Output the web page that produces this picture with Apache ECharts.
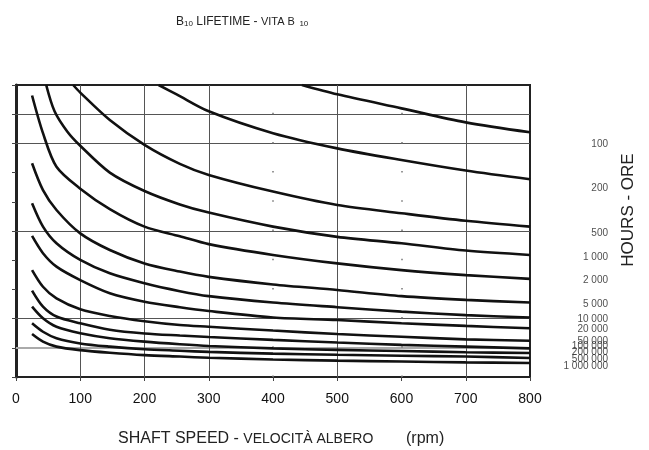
<!DOCTYPE html>
<html>
<head>
<meta charset="utf-8">
<script src="https://cdn.jsdelivr.net/npm/echarts@6/dist/echarts.min.js"></script>
<style>html,body{margin:0;padding:0;background:#fff;}#c{width:649px;height:450px;}</style>
</head>
<body>
<div id="c"></div>
<script>
// Shaft speed (rpm) tick values
const speedTicks = [0, 100, 200, 300, 400, 500, 600, 700, 800];
// Curve data: [shaft speed rpm, load (relative units, chart 0..10)]
const h100     = [[445,10],[500,9.68],[600,9.2],[700,8.72],[800,8.38]];
const h200     = [[222,10],[250,9.68],[300,9.1],[400,8.35],[500,7.83],[600,7.43],[700,7.07],[800,6.77]];
const h500     = [[89,10],[100,9.74],[146,8.8],[200,7.95],[255,7.3],[300,6.92],[400,6.35],[500,5.89],[600,5.61],[700,5.35],[800,5.15]];
const h1000    = [[47,10],[60,9.1],[80,8.4],[100,7.92],[146,7.0],[200,6.37],[255,5.91],[300,5.63],[400,5.15],[500,4.8],[600,4.58],[700,4.33],[800,4.18]];
const h2000    = [[25,9.64],[42,8.35],[63,7.2],[100,6.45],[146,5.75],[200,5.15],[255,4.82],[300,4.55],[400,4.18],[500,3.89],[600,3.66],[700,3.49],[800,3.36]];
const h5000    = [[25,7.32],[42,6.4],[63,5.72],[100,4.92],[146,4.35],[200,3.89],[255,3.61],[300,3.43],[400,3.17],[500,2.98],[600,2.77],[700,2.64],[800,2.55]];
const h10000   = [[25,5.95],[42,5.15],[63,4.58],[100,4.01],[146,3.55],[200,3.21],[255,2.94],[300,2.77],[400,2.55],[500,2.39],[600,2.24],[700,2.12],[800,2.04]];
const h20000   = [[25,4.83],[42,4.24],[63,3.78],[100,3.32],[146,2.87],[200,2.58],[255,2.39],[300,2.26],[400,2.04],[500,1.95],[600,1.84],[700,1.75],[800,1.67]];
const h50000   = [[25,3.66],[42,3.09],[63,2.69],[100,2.32],[146,2.09],[200,1.91],[255,1.78],[300,1.72],[400,1.59],[500,1.47],[600,1.38],[700,1.29],[800,1.24]];
const h100000  = [[25,2.96],[42,2.41],[63,2.07],[100,1.84],[146,1.62],[200,1.49],[255,1.42],[300,1.37],[400,1.27],[500,1.18],[600,1.1],[700,1.04],[800,0.98]];
const h200000  = [[25,2.41],[42,2.01],[63,1.72],[100,1.5],[146,1.33],[200,1.21],[255,1.12],[300,1.06],[400,0.98],[500,0.93],[600,0.89],[700,0.85],[800,0.82]];
const h500000  = [[25,1.84],[42,1.55],[63,1.33],[100,1.15],[146,1.04],[200,0.95],[255,0.9],[300,0.86],[400,0.8],[500,0.76],[600,0.73],[700,0.7],[800,0.65]];
const h1000000 = [[25,1.47],[42,1.21],[63,1.04],[100,0.92],[146,0.83],[200,0.75],[255,0.7],[300,0.66],[400,0.6],[500,0.56],[600,0.53],[700,0.5],[800,0.48]];
// Right-hand hour labels and the level each label sits at
const hourLabels = ['100','200','500','1 000','2 000','5 000','10 000','20 000','50 000','100 000','200 000','500 000','1 000 000'];
const hourLabelLevels = [7.98, 6.47, 4.93, 4.11, 3.32, 2.5, 1.99, 1.64, 1.23, 1.06, 0.86, 0.62, 0.38];
// Horizontal reference lines (load levels) and vertical reference lines (rpm)
const hGridSolid = [2, 5, 8, 9];
const hGridGrey = [1];
const vGridSolid = [100, 200, 300, 500, 700];
const vGridDotted = [400, 600];

const curves = [h100,h200,h500,h1000,h2000,h5000,h10000,h20000,h50000,h100000,h200000,h500000,h1000000];

const FONT = "'Liberation Sans', Arial, Helvetica, sans-serif";
const chart = echarts.init(document.getElementById('c'), null, {renderer: 'canvas'});

const series = curves.map((d, i) => ({
  type: 'line',
  name: hourLabels[i],
  data: d,
  smooth: 0.3,
  showSymbol: false,
  symbol: 'none',
  lineStyle: {color: '#111', width: 2.6},
  z: 5,
  silent: true
}));

const markData = [];
hGridSolid.forEach(v => markData.push({yAxis: v, lineStyle: {color: '#555', width: 1, type: 'solid'}}));
hGridGrey.forEach(v => markData.push({yAxis: v, lineStyle: {color: '#aaa', width: 2, type: 'solid'}}));
vGridSolid.forEach(v => markData.push({xAxis: v, lineStyle: {color: '#555', width: 1, type: 'solid'}}));
vGridDotted.forEach(v => markData.push({xAxis: v, lineStyle: {color: '#777', width: 1.5, type: [1.5, 27.7]}}));

series.push({
  type: 'line',
  data: [],
  silent: true,
  z: 2,
  markLine: {silent: true, symbol: 'none', label: {show: false}, animation: false, data: markData}
});

series.push({
  type: 'scatter',
  data: hourLabelLevels.map((v, i) => ({value: [800, v], name: hourLabels[i]})),
  symbolSize: 0,
  clip: false,
  silent: true,
  label: {
    show: true,
    formatter: p => p.name,
    position: [78, 0],
    align: 'right',
    verticalAlign: 'middle',
    fontFamily: FONT,
    fontSize: 10,
    color: '#222'
  }
});

chart.setOption({
  animation: false,
  backgroundColor: '#fff',
  title: {
    text: '{a|B}{s|10}{a| LIFETIME - }{b|VITA B}{s|  10}',
    left: 171,
    top: 11,
    textStyle: {
      fontWeight: 'normal',
      rich: {
        a: {fontFamily: FONT, fontSize: 12, fontWeight: 'normal', color: '#222'},
        b: {fontFamily: FONT, fontSize: 11, fontWeight: 'normal', color: '#222'},
        s: {fontFamily: FONT, fontSize: 8, fontWeight: 'normal', color: '#222', verticalAlign: 'bottom', padding: [3,0,0,0]}
      }
    }
  },
  grid: {left: 16, right: 119, top: 85, bottom: 73, show: true, borderColor: '#222', borderWidth: 2, backgroundColor: 'transparent'},
  xAxis: {
    type: 'value', min: 0, max: 800, interval: 100,
    axisLine: {show: true, lineStyle: {color: '#222', width: 2}},
    axisTick: {show: true, inside: false, length: 4, lineStyle: {color: '#444'}},
    axisLabel: {show: true, fontFamily: FONT, fontSize: 14, color: '#111', margin: 15},
    splitLine: {show: false}
  },
  yAxis: {
    type: 'value', min: 0, max: 10, interval: 1,
    axisLine: {show: true, lineStyle: {color: '#222', width: 3}},
    axisTick: {show: true, inside: false, length: 4, lineStyle: {color: '#444'}},
    axisLabel: {show: false},
    splitLine: {show: false}
  },
  graphic: [
    {
      type: 'text', left: 118, top: 431,
      style: {
        text: '{a|SHAFT SPEED - }{b|VELOCITÀ ALBERO}',
        rich: {
          a: {fontFamily: FONT, fontSize: 16, fill: '#222'},
          b: {fontFamily: FONT, fontSize: 14, fill: '#222'}
        }
      }
    },
    {
      type: 'text', left: 406, top: 431,
      style: {text: '(rpm)', fontFamily: FONT, fontSize: 16, fill: '#222'}
    },
    {
      type: 'text', x: 628, y: 210, rotation: Math.PI / 2,
      style: {text: 'HOURS - ORE', fontFamily: FONT, fontSize: 17, fill: '#222', align: 'center', verticalAlign: 'middle'}
    }
  ],
  series: series
});
</script>
</body>
</html>
